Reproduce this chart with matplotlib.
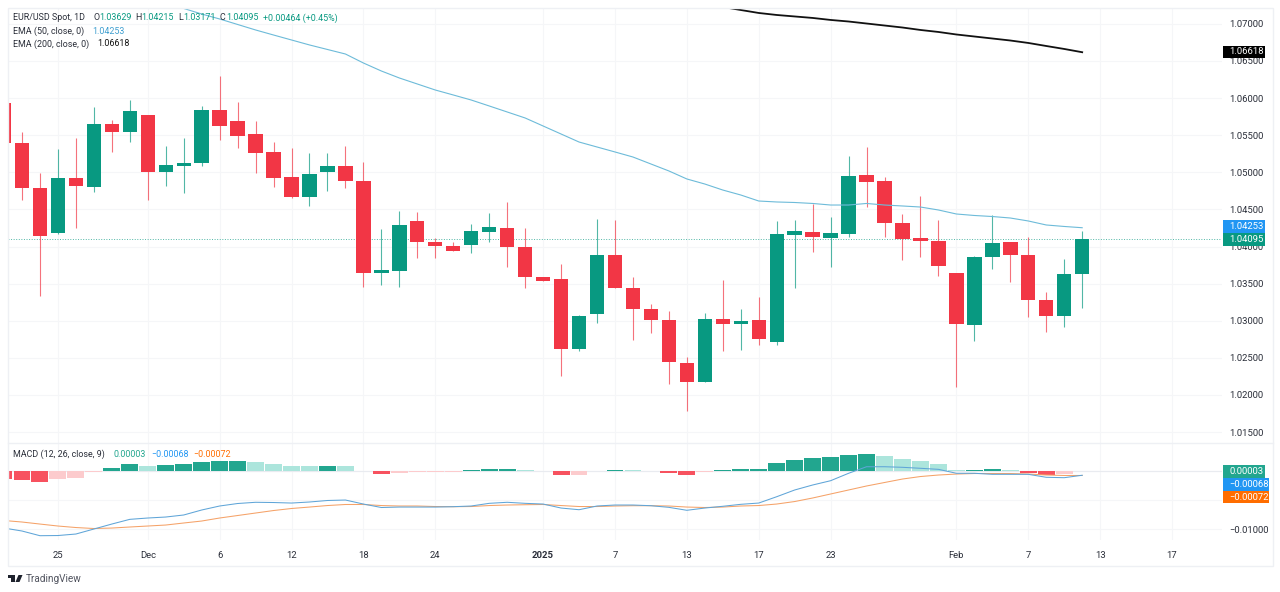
import numpy as np
import matplotlib
matplotlib.use("Agg")
import matplotlib.pyplot as plt
from matplotlib.patches import Rectangle, Polygon

plt.rcParams["font.family"] = ["Roboto", "DejaVu Sans"]

# Daily candles
opens = [1.05938, 1.05391, 1.04788, 1.04182, 1.04927, 1.04806, 1.05651, 1.05547, 1.05776, 1.05000, 1.05089,
         1.05129, 1.05844, 1.05695, 1.05512, 1.05270, 1.04937, 1.04667, 1.05008, 1.05085, 1.04883, 1.03647,
         1.03674, 1.04340, 1.04061, 1.04011, 1.04020, 1.04199, 1.04249, 1.03993, 1.03589, 1.03558, 1.02615,
         1.03090, 1.03881, 1.03445, 1.03162, 1.03009, 1.02434, 1.02170, 1.03019, 1.02960, 1.03005, 1.02713,
         1.04159, 1.04195, 1.04119, 1.04172, 1.04968, 1.04887, 1.04317, 1.04111, 1.04078, 1.03639, 1.02946,
         1.03858, 1.04054, 1.03889, 1.03279, 1.03067, 1.03629]
highs = [1.05938, 1.05547, 1.04995, 1.05314, 1.05462, 1.05880, 1.05705, 1.05974, 1.05776, 1.05354, 1.05458,
         1.05894, 1.06298, 1.05951, 1.05691, 1.05412, 1.05323, 1.05256, 1.05256, 1.05354, 1.05135, 1.04236,
         1.04482, 1.04469, 1.04111, 1.04065, 1.04303, 1.04447, 1.04596, 1.04245, 1.03589, 1.03764, 1.03077,
         1.04371, 1.04357, 1.03585, 1.03221, 1.03127, 1.02507, 1.03100, 1.03549, 1.03154, 1.03319, 1.04348,
         1.04357, 1.04573, 1.04402, 1.05220, 1.05345, 1.04941, 1.04438, 1.04685, 1.04357, 1.03639, 1.03872,
         1.04425, 1.04054, 1.04132, 1.03383, 1.03827, 1.04215]
lows = [1.05391, 1.04627, 1.03333, 1.04175, 1.04253, 1.04739, 1.05278, 1.05412, 1.04627, 1.04819, 1.04725,
        1.05085, 1.05435, 1.05332, 1.04991, 1.04806, 1.04650, 1.04546, 1.04752, 1.04792, 1.03450, 1.03481,
        1.03450, 1.03841, 1.03841, 1.03939, 1.03916, 1.04057, 1.03720, 1.03445, 1.03535, 1.02255, 1.02592,
        1.02965, 1.03445, 1.02740, 1.02838, 1.02147, 1.01783, 1.02170, 1.02588, 1.02605, 1.02668, 1.02673,
        1.03437, 1.03930, 1.03720, 1.04124, 1.04536, 1.04132, 1.03818, 1.03863, 1.03606, 1.02111, 1.02722,
        1.03697, 1.03526, 1.03054, 1.02852, 1.02919, 1.03171]
closes = [1.05391, 1.04788, 1.04142, 1.04923, 1.04811, 1.05651, 1.05547, 1.05826, 1.05000, 1.05098, 1.05129,
          1.05844, 1.05628, 1.05493, 1.05260, 1.04927, 1.04667, 1.04977, 1.05085, 1.04879, 1.03647, 1.03683,
          1.04286, 1.04061, 1.04007, 1.03939, 1.04205, 1.04267, 1.03989, 1.03585, 1.03535, 1.02615, 1.03063,
          1.03881, 1.03445, 1.03162, 1.03009, 1.02443, 1.02170, 1.03019, 1.02960, 1.03000, 1.02757, 1.04168,
          1.04205, 1.04124, 1.04178, 1.04950, 1.04873, 1.04313, 1.04097, 1.04070, 1.03737, 1.02960, 1.03863,
          1.04051, 1.03885, 1.03279, 1.03067, 1.03629, 1.04095]

# EMA 50 starts at candle 10, EMA 200 at candle 39 (earlier part is above the pane)
ema50 = [1.07208, 1.07133, 1.07066, 1.06992, 1.06918, 1.06850, 1.06783, 1.06716, 1.06655, 1.06594, 1.06473,
         1.06365, 1.06271, 1.06190, 1.06109, 1.06042, 1.05974, 1.05894, 1.05813, 1.05732, 1.05624, 1.05516,
         1.05408, 1.05341, 1.05274, 1.05206, 1.05112, 1.05018, 1.04910, 1.04842, 1.04761, 1.04694, 1.04613,
         1.04600, 1.04593, 1.04580, 1.04559, 1.04559, 1.04580, 1.04559, 1.04546, 1.04532, 1.04492, 1.04438,
         1.04418, 1.04404, 1.04384, 1.04344, 1.04290, 1.04270, 1.04253]
ema200 = [1.07275, 1.07228, 1.07187, 1.07147, 1.07120, 1.07100, 1.07080, 1.07053, 1.07032, 1.07005, 1.06978,
          1.06951, 1.06918, 1.06891, 1.06857, 1.06830, 1.06803, 1.06776, 1.06743, 1.06702, 1.06662, 1.06618]

# MACD pane
hist = [-.00138, -.00150, -.00190, -.00138, -.00109, -.00005, .00052, .00121, .00098, .00103, .00121,
        .00167, .00184, .00184, .00167, .00126, .00091, .00086, .00098, .00091, .00005, -.00047,
        -.00022, -.00017, -.00012, -.00012, .00022, .00040, .00040, .00017, .00009, -.00057, -.00057,
        .00009, .00029, .00017, .00012, -.00034, -.00069, -.00017, .00017, .00040, .00040, .00150,
        .00195, .00236, .00247, .00288, .00305, .00264, .00212, .00172, .00126, .00017, .00022,
        .00040, .00022, -.00022, -.00057, -.00050, .00003]
macd = [-.00978, -.01029, -.01110, -.01107, -.01081, -.00995, -.00909, -.00828, -.00805, -.00788, -.00753,
        -.00667, -.00598, -.00555, -.00534, -.00538, -.00547, -.00529, -.00503, -.00495, -.00564, -.00624,
        -.00616, -.00616, -.00616, -.00610, -.00598, -.00552, -.00534, -.00552, -.00564, -.00633, -.00662,
        -.00598, -.00581, -.00581, -.00593, -.00621, -.00672, -.00633, -.00603, -.00569, -.00547, -.00438,
        -.00322, -.00236, -.00162, -.00034, .00079, .00079, .00069, .00052, .00034, -.00034, -.00034,
        -.00052, -.00052, -.00052, -.00103, -.00110, -.00068]
signal = [-.00848, -.00874, -.00909, -.00943, -.00969, -.00986, -.00978, -.00960, -.00943, -.00926, -.00891,
          -.00857, -.00805, -.00762, -.00719, -.00676, -.00641, -.00616, -.00590, -.00572, -.00572, -.00590,
          -.00598, -.00598, -.00607, -.00610, -.00607, -.00590, -.00581, -.00576, -.00572, -.00590, -.00607,
          -.00607, -.00598, -.00593, -.00593, -.00598, -.00616, -.00624, -.00616, -.00598, -.00590, -.00564,
          -.00521, -.00460, -.00391, -.00322, -.00253, -.00193, -.00133, -.00090, -.00064, -.00047, -.00038,
          -.00038, -.00038, -.00047, -.00064, -.00072, -.00072]

# Axis ticks
price_ticks = [1.015, 1.02, 1.025, 1.03, 1.035, 1.04, 1.045, 1.05, 1.055, 1.06, 1.065, 1.07]
time_pos = [3, 8, 12, 16, 20, 24, 30, 34, 38, 42, 46, 53, 57, 61, 65]
time_labels = ["25", "Dec", "6", "12", "18", "24", "2025", "7", "13", "17", "23", "Feb", "7", "13", "17"]

GREEN = "#089981"
RED = "#f23645"
EMA_BLUE = "#6dbbd9"
MACD_BLUE = "#5fa5d8"
ORANGE = "#f5a268"
TEXT = "#2a2e39"
GRID = "#f5f6f8"
BORDER = "#eef0f4"

W, H = 1280, 592


def fx(x):
    return x / W


def fy(y):
    return 1 - y / H


fig = plt.figure(figsize=(12.8, 5.92), dpi=100, facecolor="white")
ax = fig.add_axes([fx(8), fy(443), fx(1222 - 8), (443 - 8) / H])
ax2 = fig.add_axes([fx(8), fy(540), fx(1222 - 8), (540 - 443) / H])

days = np.arange(len(closes))
xlim = (0.2226, 67.78)

# Price pane
for i in days:
    col = GREEN if closes[i] >= opens[i] else RED
    ax.vlines(i, lows[i], highs[i], color=col, lw=0.8, alpha=0.7, zorder=2)
    ax.bar(i, abs(closes[i] - opens[i]), bottom=min(opens[i], closes[i]), width=0.8, color=col, zorder=3)
ax.plot(days[10:], ema50, color=EMA_BLUE, lw=0.8, zorder=4)
ax.plot(days[39:], ema200, color="#111111", lw=1.3, zorder=4)
ax.axhline(closes[-1], color=GREEN, ls=":", lw=0.7, alpha=0.7, zorder=1)
ax.set_xlim(xlim)
ax.set_ylim(1.01352, 1.07214)
ax.set_yticks(price_ticks)
ax.set_yticklabels([f"{p:.5f}" for p in price_ticks])

# MACD pane
for i in days:
    prev = hist[i - 1] if i > 0 else hist[i] + 1
    if hist[i] >= 0:
        col = "#22a68f" if hist[i] >= prev else "#ace5dc"
    else:
        col = "#f7525f" if hist[i] < prev else "#fccbcd"
    ax2.bar(i, hist[i], width=0.94, color=col, zorder=2)
ax2.axhline(0, color="#e9ebf0", lw=0.8, zorder=1)
ax2.plot(days, signal, color=ORANGE, lw=0.75, zorder=3)
ax2.plot(days, macd, color=MACD_BLUE, lw=0.75, zorder=4)
ax2.set_xlim(xlim)
ax2.set_ylim(-.01184, .00488)
ax2.set_yticks([-.01, -.005, 0])
ax2.set_yticklabels(["\u22120.01000", "", ""])

for a in (ax, ax2):
    a.yaxis.tick_right()
    a.set_xticks(time_pos)
    a.grid(True, color=GRID, lw=0.8, zorder=0)
    a.set_axisbelow(True)
    a.tick_params(axis="y", length=0, pad=5, labelsize=6.8, labelcolor=TEXT)
    a.tick_params(axis="x", length=0, pad=8, labelsize=6.8, labelcolor=TEXT)
    for s in a.spines.values():
        s.set_visible(False)
ax.set_xticklabels([])
ax2.set_xticklabels(time_labels)
for lab in ax2.get_xticklabels():
    if lab.get_text() == "2025":
        lab.set_fontweight("bold")


def label(x, y, s, color=TEXT, size=6.4, **kw):
    fig.text(fx(x), fy(y), s, color=color, fontsize=size, va="center", ha="left", zorder=6, **kw)


def tag(y1, y2, x2, s, color):
    fig.add_artist(Rectangle((fx(1223), fy(y2)), fx(x2 - 1223), (y2 - y1) / H,
                             transform=fig.transFigure, facecolor=color, edgecolor="none", zorder=5))
    label(1229, (y1 + y2) / 2, s, color="white", size=6.8)


# Outer frame of the chart and pane separator
fig.add_artist(Rectangle((fx(8), fy(566)), fx(1265), 558 / H, transform=fig.transFigure,
                         fill=False, edgecolor=BORDER, lw=1, zorder=1))
fig.add_artist(plt.Line2D([fx(8), fx(1273)], [fy(443), fy(443)], color=BORDER, lw=1, zorder=1))

# Legends
label(13, 18, "EUR/USD Spot, 1D")
for x, s in [(93, "O"), (135, "H"), (178, "L"), (220, "C")]:
    label(x, 18, s)
for x, s in [(99.5, "1.03629"), (141.5, "1.04215"), (183.5, "1.03171"), (226, "1.04095"),
             (263, "+0.00464 (+0.45%)")]:
    label(x, 18, s, color=GREEN)
label(13, 31, "EMA (50, close, 0)")
label(92, 31, "1.04253", color="#3f9fd0")
label(13, 44, "EMA (200, close, 0)")
label(97, 44, "1.06618", color="#111111")
label(13, 454.7, "MACD (12, 26, close, 9)")
label(113, 454.7, "0.00003", color="#22a68f")
label(151, 454.7, "\u22120.00068", color="#2196f3")
label(193, 454.7, "\u22120.00072", color="#ff6d00")

# Last value tags on the scale
tag(46, 58, 1265, "1.06618", "#000000")
tag(220, 233, 1265, "1.04253", "#2196f3")
tag(233, 246, 1265, "1.04095", GREEN)
tag(465, 478, 1265, "0.00003", "#22a68f")
tag(478, 491, 1269, "\u22120.00068", "#2196f3")
tag(491, 503, 1269, "\u22120.00072", "#ff6d00")

# TradingView mark
mark = "#1e222d"
fig.add_artist(Polygon([(fx(8), fy(575)), (fx(15), fy(575)), (fx(15), fy(582)), (fx(11), fy(582)),
                        (fx(11), fy(578)), (fx(8), fy(578))], transform=fig.transFigure, color=mark, lw=0))
fig.add_artist(Polygon([(fx(18.5), fy(575)), (fx(22.5), fy(575)), (fx(19.5), fy(582)), (fx(15.5), fy(582))],
                       transform=fig.transFigure, color=mark, lw=0))
fig.text(fx(26), fy(578.5), "TradingView", color="#50535e", fontsize=7.2, va="center", ha="left")

fig.savefig("out.png", dpi=100)
